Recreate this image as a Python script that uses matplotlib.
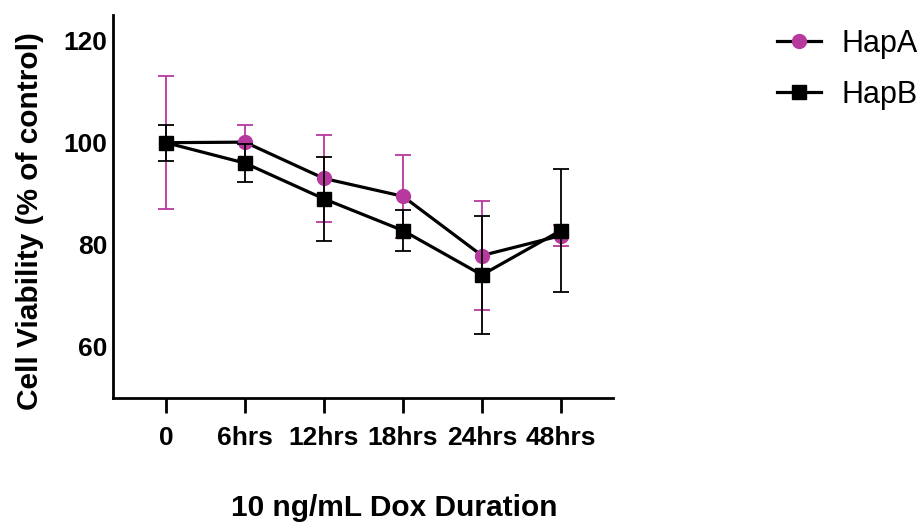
import matplotlib
matplotlib.use("Agg")
import matplotlib.pyplot as plt
from matplotlib.lines import Line2D

# data
time_labels = ["0", "6hrs", "12hrs", "18hrs", "24hrs", "48hrs"]
hapA_mean = [100.0, 100.1, 93.0, 89.5, 77.9, 81.8]
hapA_sem = [13.0, 3.3, 8.5, 8.1, 10.6, 2.0]
hapB_mean = [100.0, 96.0, 89.0, 82.8, 74.1, 82.8]
hapB_sem = [3.5, 3.8, 8.2, 4.1, 11.5, 12.1]
series_names = ["HapA", "HapB"]

MAGENTA = "#B8399E"

plt.rcParams["font.family"] = ["Liberation Sans", "DejaVu Sans"]

fig = plt.figure(figsize=(9.24, 5.30), dpi=100)
ax = fig.add_axes([113 / 924, 1 - 398 / 530, 500 / 924, 383 / 530])

x = list(range(len(time_labels)))

ax.errorbar(x, hapA_mean, yerr=hapA_sem, color="black", lw=2.3,
            marker="o", ms=10, mfc=MAGENTA, mec=MAGENTA,
            ecolor=MAGENTA, elinewidth=1.3, capsize=6, capthick=1.3,
            zorder=3)
ax.errorbar(x, hapB_mean, yerr=hapB_sem, color="black", lw=2.3,
            marker="s", ms=10, mfc="black", mec="black",
            ecolor="black", elinewidth=1.3, capsize=6, capthick=1.3,
            zorder=4)

ax.set_xlim(-0.67, 5.66)
ax.set_ylim(50, 125)
ax.set_xticks(x)
ax.set_xticklabels(time_labels, fontsize=19, fontweight="bold")
ax.set_yticks([60, 80, 100, 120])
ax.set_yticklabels(["60", "80", "100", "120"], fontsize=19, fontweight="bold")

for side in ("top", "right"):
    ax.spines[side].set_visible(False)
for side in ("left", "bottom"):
    ax.spines[side].set_linewidth(2.0)
ax.tick_params(axis="y", length=0, pad=4)
ax.tick_params(axis="x", length=11, width=2.0, pad=9)

fig.text(394 / 924, 1 - 508 / 530, "10 ng/mL Dox Duration", fontsize=21.5,
         fontweight="bold", ha="center", va="center")
fig.text(30 / 924, 1 - 221 / 530, "Cell Viability (% of control)", fontsize=21.5,
         fontweight="bold", ha="center", va="center", rotation=90)

handles = [
    Line2D([], [], color="black", lw=2.3, marker="o", ms=10,
           mfc=MAGENTA, mec=MAGENTA),
    Line2D([], [], color="black", lw=2.3, marker="s", ms=10,
           mfc="black", mec="black"),
]
fig.legend(handles, series_names, loc="upper left",
           bbox_to_anchor=(777 / 924, 1 - 29 / 530), frameon=False,
           fontsize=22, handlelength=1.45, handletextpad=0.65,
           labelspacing=0.68, borderpad=0, borderaxespad=0)

fig.savefig("out.png", dpi=100)
plt.close()
